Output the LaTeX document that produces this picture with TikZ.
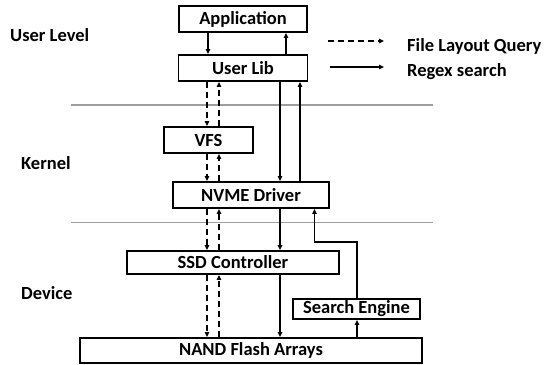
\documentclass[tikz,border=0pt]{standalone}
\usepackage{fontspec}
\setmainfont{Carlito}
\usetikzlibrary{arrows.meta}
\begin{document}
\begin{tikzpicture}[x=1pt,y=-1pt,
  box/.style={draw=black,line width=1.8pt,inner sep=0pt,font=\fontsize{18.5}{21}\selectfont\bfseries},
  lbl/.style={font=\fontsize{18.5}{21}\selectfont\bfseries,inner sep=0pt},
  conn/.style={line width=1.2pt,-{Triangle[length=5pt,width=4.5pt]}},
  dconn/.style={conn,dash pattern=on 6pt off 4pt},
  sep/.style={draw=black!38,line width=1.3pt}]
\useasboundingbox (0,0) rectangle (545,364);
\fill[white] (0,0) rectangle (545,364);
% boxes
\node[box,minimum width=128pt,minimum height=26pt] (app) at (243,19) {Application};
\node[box,minimum width=129pt,minimum height=26pt] (ulib) at (243,68) {User Lib};
\node[box,minimum width=89pt,minimum height=26pt] (vfs) at (208.5,140) {VFS};
\node[box,minimum width=156pt,minimum height=26pt] (nvme) at (251,195) {NVME Driver};
\node[box,minimum width=212pt,minimum height=23pt] (ssd) at (233,262.5) {SSD Controller};
\node[box,minimum width=127pt,minimum height=20pt] (se) at (356.5,309) {Search Engine};
\node[box,minimum width=342pt,minimum height=25pt] (nand) at (251,350.5) {NAND Flash Arrays};
% layer labels
\node[lbl,anchor=west] (ul) at (10,35) {User Level};
\node[lbl,anchor=west] (kn) at (21,163) {Kernel};
\node[lbl,anchor=west] (dv) at (21,293) {Device};
% separators
\coordinate (s1a) at (71,105); \coordinate (s1b) at (433,105);
\coordinate (s2a) at (71,222.5); \coordinate (s2b) at (433,222.5);
\draw[sep] (s1a) -- (s1b);
\draw[sep] (s2a) -- (s2b);
% x positions
\coordinate (xa) at (208,0);
\coordinate (xb) at (286,0);
\coordinate (xd) at (207,0);
\coordinate (xu) at (219,0);
\coordinate (xs) at (280,0);
\coordinate (xr) at (300,0);
\coordinate (xn) at (314.5,0);
\coordinate (xe) at (357,0);
\coordinate (turn1) at (357,242);
\coordinate (turn2) at (314.5,242);
% app <-> user lib
\draw[conn] (app.south -| xa) -- (ulib.north -| xa);
\draw[conn] (ulib.north -| xb) -- (app.south -| xb);
% user lib <-> vfs
\draw[dconn] (ulib.south -| xd) -- (vfs.north -| xd);
\draw[dconn] (vfs.north -| xu) -- (ulib.south -| xu);
% user lib <-> nvme
\draw[conn] (ulib.south -| xs) -- (nvme.north -| xs);
\draw[conn] (nvme.north -| xr) -- (ulib.south -| xr);
% vfs <-> nvme
\draw[dconn] (vfs.south -| xd) -- (nvme.north -| xd);
\draw[dconn] (nvme.north -| xu) -- (vfs.south -| xu);
% nvme <-> ssd
\draw[dconn] (nvme.south -| xd) -- (ssd.north -| xd);
\draw[dconn] (ssd.north -| xu) -- (nvme.south -| xu);
\draw[conn] (nvme.south -| xs) -- (ssd.north -| xs);
% ssd <-> nand
\draw[dconn] (ssd.south -| xd) -- (nand.north -| xd);
\draw[dconn] (nand.north -| xu) -- (ssd.south -| xu);
\draw[conn] (ssd.south -| xs) -- (nand.north -| xs);
% nand -> search engine -> nvme
\draw[conn] (nand.north -| xe) -- (se.south -| xe);
\draw[conn] (se.north -| xe) -- (turn1) -- (turn2) -- (nvme.south -| xn);
% legend
\coordinate (l1a) at (328,41); \coordinate (l1b) at (384,41);
\coordinate (l2a) at (330,67); \coordinate (l2b) at (384,67);
\draw[dconn] (l1a) -- (l1b);
\draw[conn] (l2a) -- (l2b);
\node[lbl,anchor=west] (lt1) at (407,46) {File Layout Query};
\node[lbl,anchor=west] (lt2) at (407,72) {Regex search};
\end{tikzpicture}
\end{document}
